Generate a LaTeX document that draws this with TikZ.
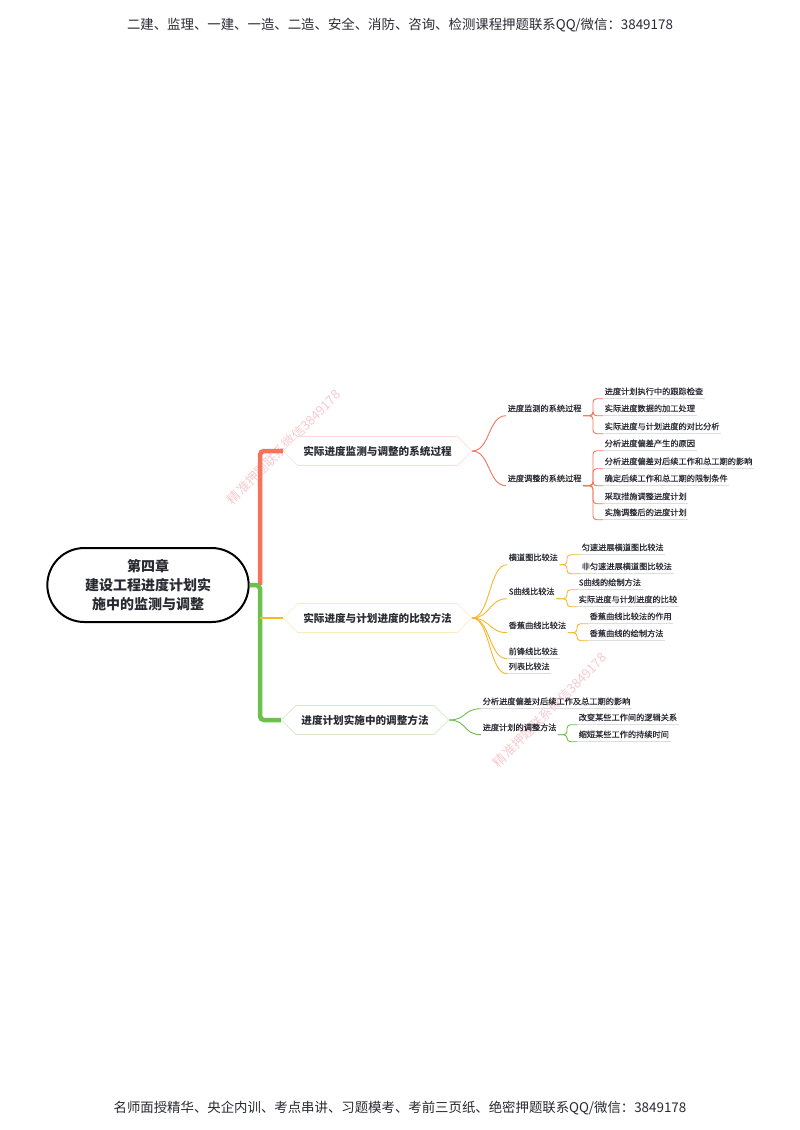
\documentclass[tikz,border=0pt]{standalone}
\usepackage{fontspec}
\setmainfont{Noto Sans CJK SC}
\newfontfamily\cjkmed{Noto Sans CJK SC}[FakeBold=0.35]
\usetikzlibrary{shapes.misc,shapes.symbols}
\definecolor{cr}{HTML}{F4735C}
\definecolor{co}{HTML}{F8B62A}
\definecolor{cg}{HTML}{6CC04C}
\definecolor{txt}{HTML}{2A2A33}
\definecolor{wm}{HTML}{F2A0A8}
\newcommand\brk[4]{\draw[#1,bline] (#2.south east) -- (#2.south east -| #3) -- (#3 |- #4.south west) -- (#4.south west);}
\begin{document}
\begin{tikzpicture}[x=1pt,y=-1pt,
  hdr/.style={font=\fontsize{13.4}{16}\selectfont, text=txt, inner sep=0pt},
  rootbox/.style={rounded rectangle, draw=black, line width=2pt, minimum width=208pt, minimum height=74pt, align=center, font=\fontsize{14}{19}\selectfont\bfseries, text=txt},
  lone/.style={signal, signal to=west and east, signal pointer angle=90, minimum height=29pt, inner xsep=5.5pt, fill=white, font=\fontsize{10.6}{12}\selectfont\bfseries, text=txt, line width=0.6pt},
  ltwo/.style={anchor=west, inner xsep=1.5pt, inner ysep=2.5pt, text height=6.5pt, text depth=1.5pt, font=\cjkmed\fontsize{8.2}{9}\selectfont, text=txt},
  lthree/.style={ltwo},
  uline/.style={draw=black!13, line width=0.5pt},
  bline/.style={line width=0.9pt, rounded corners=3.5pt},
  cline/.style={line width=0.9pt},
  wmark/.style={text=wm, opacity=0.55, rotate=45, font=\fontsize{13}{15}\selectfont}
]
\useasboundingbox (0,0) rectangle (800,1130);
\fill[white] (0,0) rectangle (800,1130);

% header and footer
\node[hdr] (hd) at (400,25) {二建、监理、一建、一造、二造、安全、消防、咨询、检测课程押题联系QQ/微信：3849178};
\node[hdr] (ft) at (400,1108) {名师面授精华、央企内训、考点串讲、习题模考、考前三页纸、绝密押题联系QQ/微信：3849178};

% watermarks
\node[wmark] (wm1) at (284,447) {精准押题联系微信3849178};
\node[wmark] (wm2) at (550,710) {精准押题联系微信3849178};

% root
\node[rootbox] (root) at (148,585) {第四章\\建设工程进度计划实\\施中的监测与调整};

% level 1
\node[lone, draw=cr!25] (n1) at (377.5,451) {实际进度监测与调整的系统过程};
\node[lone, draw=co!30] (n2) at (377.5,618) {实际进度与计划进度的比较方法};
\node[lone, draw=cg!30] (n3) at (365,720) {进度计划实施中的调整方法};

% trunk
\coordinate (bar) at (260,585);
\draw[cr, line width=4.5pt, rounded corners=4pt] (bar) -- (bar |- n1.west) -- (n1.west);
\draw[cg, line width=4.5pt, rounded corners=4pt] (root.east) -- (bar) -- (bar |- n3.west) -- (n3.west);
\draw[co, line width=2.2pt] (bar |- n2.west) -- (n2.west);

% ---------- branch 1 ----------
\node[ltwo] (m1) at (506,409) {进度监测的系统过程};
\node[ltwo] (m2) at (506,479) {进度调整的系统过程};
\foreach \m in {m1,m2}
  \draw[cr, cline] (n1.east) .. controls +(18,0) and +(-18,0) .. (\m.south west);
\coordinate (bxa) at (593,0);
\node[lthree] (a1) at (603,392) {进度计划执行中的跟踪检查};
\node[lthree] (a2) at (603,409) {实际进度数据的加工处理};
\node[lthree] (a3) at (603,427) {实际进度与计划进度的对比分析};
\node[lthree] (b1) at (603,444) {分析进度偏差产生的原因};
\node[lthree] (b2) at (603,462) {分析进度偏差对后续工作和总工期的影响};
\node[lthree] (b3) at (603,479) {确定后续工作和总工期的限制条件};
\node[lthree] (b4) at (603,497) {采取措施调整进度计划};
\node[lthree] (b5) at (603,513) {实施调整后的进度计划};
\foreach \c in {a1,a2,a3} {\draw[uline] (\c.south west) -- (\c.south east); \brk{cr}{m1}{bxa}{\c}}
\foreach \c in {b1,b2,b3,b4,b5} {\draw[uline] (\c.south west) -- (\c.south east); \brk{cr}{m2}{bxa}{\c}}

% ---------- branch 2 ----------
\node[ltwo] (p1) at (507,558) {横道图比较法};
\node[ltwo] (p2) at (507,592) {S曲线比较法};
\node[ltwo] (p3) at (507,626) {香蕉曲线比较法};
\node[ltwo] (p4) at (507,652) {前锋线比较法};
\node[ltwo] (p5) at (507,667) {列表比较法};
\foreach \m in {p1,p2,p3,p4,p5}
  \draw[co, cline] (n2.east) .. controls +(18,0) and +(-18,0) .. (\m.south west);
\foreach \m in {p4,p5} \draw[uline] (\m.south west) -- (\m.south east);
\coordinate (bxb) at (567,0);
\coordinate (bxc) at (577,0);
\node[lthree] (q1) at (580,548) {匀速进展横道图比较法};
\node[lthree] (q2) at (580,567) {非匀速进展横道图比较法};
\node[lthree] (r1) at (577,583) {S曲线的绘制方法};
\node[lthree] (r2) at (577,600) {实际进度与计划进度的比较};
\node[lthree] (s1) at (588,617) {香蕉曲线比较法的作用};
\node[lthree] (s2) at (588,634) {香蕉曲线的绘制方法};
\foreach \c in {q1,q2} {\draw[uline] (\c.south west) -- (\c.south east); \brk{co}{p1}{bxb}{\c}}
\foreach \c in {r1,r2} {\draw[uline] (\c.south west) -- (\c.south east); \brk{co}{p2}{bxb}{\c}}
\foreach \c in {s1,s2} {\draw[uline] (\c.south west) -- (\c.south east); \brk{co}{p3}{bxc}{\c}}

% ---------- branch 3 ----------
\node[ltwo] (g1) at (481,702) {分析进度偏差对后续工作及总工期的影响};
\node[ltwo] (g2) at (481,728) {进度计划的调整方法};
\foreach \m in {g1,g2}
  \draw[cg, cline] (n3.east) .. controls +(18,0) and +(-18,0) .. (\m.south west);
\draw[uline] (g1.south west) -- (g1.south east);
\coordinate (bxd) at (567,0);
\node[lthree] (h1) at (577,718) {改变某些工作间的逻辑关系};
\node[lthree] (h2) at (577,735) {缩短某些工作的持续时间};
\foreach \c in {h1,h2} {\draw[uline] (\c.south west) -- (\c.south east); \brk{cg}{g2}{bxd}{\c}}
\end{tikzpicture}
\end{document}
